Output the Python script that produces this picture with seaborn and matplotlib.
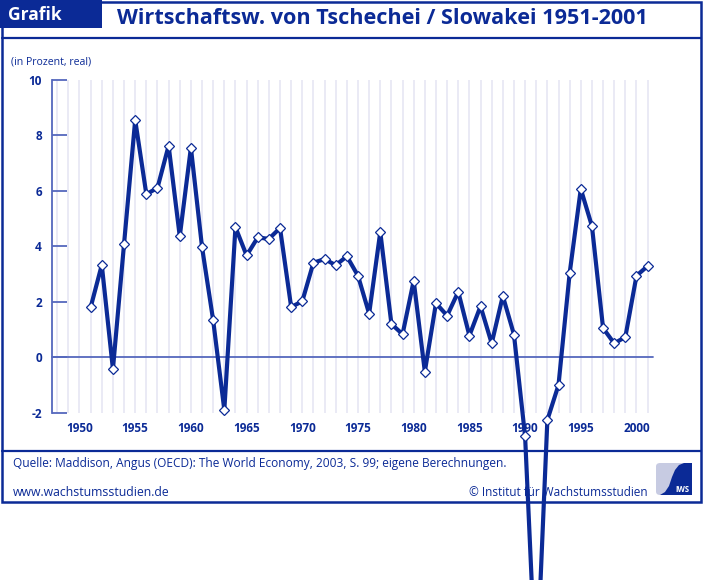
import matplotlib
matplotlib.use("Agg")
import matplotlib.pyplot as plt
import seaborn as sns
import pandas as pd
from matplotlib.patches import Rectangle, Polygon, FancyBboxPatch
from matplotlib.lines import Line2D

# ---- data ----
years = list(range(1951, 2002))
growth = [1.80, 3.33, -0.43, 4.09, 8.56, 5.88, 6.11, 7.63, 4.36, 7.56,
          3.97, 1.33, -1.90, 4.69, 3.67, 4.32, 4.27, 4.66, 1.81, 2.02,
          3.41, 3.54, 3.32, 3.64, 2.94, 1.57, 4.52, 1.20, 0.83, 2.76,
          -0.52, 1.95, 1.50, 2.36, 0.78, 1.84, 0.50, 2.21, 0.82, -2.85,
          -11.7, -2.26, -1.00, 3.03, 6.07, 4.73, 1.05, 0.50, 0.73, 2.94,
          3.29]
y_ticks = [-2, 0, 2, 4, 6, 8, 10]
x_ticks = [1950, 1955, 1960, 1965, 1970, 1975, 1980, 1985, 1990, 1995, 2000]

title = "Wirtschaftsw. von Tschechei / Slowakei 1951-2001"
unit = "(in Prozent, real)"
source = "Quelle: Maddison, Angus (OECD): The World Economy, 2003, S. 99; eigene Berechnungen."
web = "www.wachstumsstudien.de"
copy = "© Institut für Wachstumsstudien"

df = pd.DataFrame({"Jahr": years, "Wachstum": growth})

sns.set_theme(style="white")
plt.rcParams['font.family'] = ['Open Sans', 'DejaVu Sans']

DARK = "#0b2a96"
MID = "#5568bd"
GRID = "#e6e6f3"

W, H = 703, 580
fig = plt.figure(figsize=(W / 100, H / 100), dpi=100)
fig.patch.set_facecolor("white")

def fx(x):
    return x / W

def fy(y):
    return 1 - y / H

# ---- frame / header / footer (figure level) ----
fig.add_artist(Rectangle((fx(2), fy(502)), fx(699), 500 / H, transform=fig.transFigure,
                         fill=False, edgecolor=DARK, lw=1.8, zorder=1))
fig.add_artist(Rectangle((0, fy(28)), fx(102), 28 / H + 0.01, transform=fig.transFigure,
                         facecolor=DARK, edgecolor="none", zorder=2))
fig.add_artist(Line2D([fx(2), fx(701)], [fy(38), fy(38)], transform=fig.transFigure,
                      color=DARK, lw=1.6, zorder=1))
fig.add_artist(Line2D([fx(2), fx(701)], [fy(451), fy(451)], transform=fig.transFigure,
                      color=DARK, lw=1.6, zorder=1))

fig.text(fx(8), fy(14.5), "Grafik", color="white", fontsize=12.5, fontweight="bold",
         va="center", ha="left", zorder=3)
fig.text(fx(382.5), fy(19), title, color=DARK, fontsize=15.6, fontweight="bold",
         va="center", ha="center", zorder=3)
fig.text(fx(11), fy(62), unit, color=DARK, fontsize=7.6, va="center", ha="left")
fig.text(fx(13), fy(463), source, color=DARK, fontsize=8.6, va="center", ha="left")
fig.text(fx(13), fy(493), web, color=DARK, fontsize=8.8, va="center", ha="left")
fig.text(fx(648), fy(493), copy, color=DARK, fontsize=8.5, va="center", ha="right")

# logo
fig.add_artist(FancyBboxPatch((fx(656), fy(495)), fx(36), 32 / H,
                              boxstyle="round,pad=0,rounding_size=0.006",
                              transform=fig.transFigure,
                              facecolor="#c7cbe2", edgecolor="none", zorder=2))
curve = [(660, 495), (665, 492), (669, 486), (672, 477), (675, 470), (679, 465),
         (684, 463), (692, 463), (692, 495)]
fig.add_artist(Polygon([(fx(a), fy(b)) for a, b in curve], closed=True,
                       transform=fig.transFigure, facecolor=DARK, edgecolor="none", zorder=3))
fig.text(fx(682), fy(490), "IWS", color="white", fontsize=5.5, fontweight="bold",
         va="center", ha="center", zorder=4)

# ---- axes ----
ax = fig.add_axes([fx(51.65), fy(412.7), (653.2 - 51.65) / W, (412.7 - 80) / H])
ax.set_zorder(10)
ax.patch.set_alpha(0)

ax.vlines(range(1948, 2002), -2, 10, color=GRID, lw=1.2, zorder=0)
ax.axhline(0, color=MID, lw=1.3, zorder=1)

sns.lineplot(data=df, x="Jahr", y="Wachstum", ax=ax, color=DARK, lw=3.0,
             marker="D", markersize=4.8, markerfacecolor="white",
             markeredgecolor=DARK, markeredgewidth=0.9, zorder=5)
for ln in ax.lines:
    ln.set_clip_on(False)

ax.set_xlim(1947.5, 2001.5)
ax.set_ylim(-2, 10)
ax.set_xlabel("")
ax.set_ylabel("")

for s in ["top", "right", "bottom"]:
    ax.spines[s].set_visible(False)
ax.spines["left"].set_color(MID)
ax.spines["left"].set_linewidth(1.3)

ax.set_yticks(y_ticks)
ax.set_yticklabels([str(v) for v in y_ticks])
ax.set_xticks(x_ticks)
ax.set_xticklabels([str(v) for v in x_ticks])
ax.tick_params(axis="y", direction="in", length=10.8, width=1.3, color=MID,
               pad=7, labelsize=8.5, labelcolor=DARK, left=True)
ax.tick_params(axis="x", length=0, pad=6.5, labelsize=8.5, labelcolor=DARK)
for lab in ax.get_xticklabels() + ax.get_yticklabels():
    lab.set_fontweight("bold")

fig.savefig("out.png", dpi=100)
